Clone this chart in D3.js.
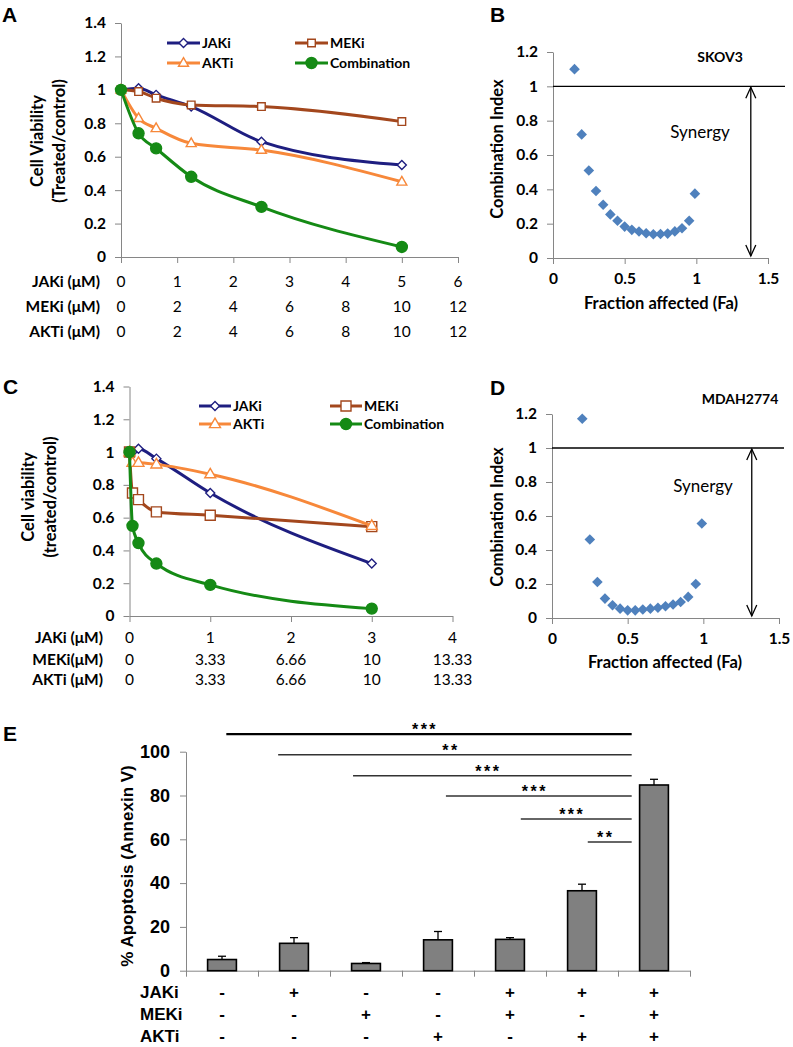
<!DOCTYPE html>
<html><head><meta charset="utf-8">
<script src="https://cdn.jsdelivr.net/npm/d3@7"></script>
<style>body{margin:0;background:#fff}svg{display:block}</style>
</head><body>
<svg id="c" width="793" height="1047"></svg>
<script>
// ---------- DATA ----------
// Panel A (SKOV3) viability
const doseA = [0, 0.3125, 0.625, 1.25, 2.5, 5];
const jakA = [1.00, 1.01, 0.97, 0.90, 0.69, 0.55];
const mekA = [1.00, 0.99, 0.95, 0.91, 0.90, 0.81];
const aktA = [1.00, 0.83, 0.77, 0.68, 0.64, 0.45];
const comboA = [1.00, 0.74, 0.65, 0.48, 0.30, 0.06];
const jakTicksA = ["0","1","2","3","4","5","6"];
const mekTicksA = ["0","2","4","6","8","10","12"];
const aktTicksA = ["0","2","4","6","8","10","12"];
// Panel C (MDAH2774) viability
const doseC = [0, 0.037, 0.111, 0.333, 1, 3];
const jakC = [1.00, 1.00, 1.02, 0.96, 0.75, 0.32];
const mekC = [1.00, 0.75, 0.71, 0.635, 0.615, 0.545];
const aktC = [1.00, 0.935, 0.935, 0.925, 0.865, 0.55];
const comboC = [1.00, 0.55, 0.445, 0.32, 0.19, 0.045];
const jakTicksC = ["0","1","2","3","4"];
const mekTicksC = ["0","3.33","6.66","10","13.33"];
const aktTicksC = ["0","3.33","6.66","10","13.33"];
const seriesNames = ["JAKi","MEKi","AKTi","Combination"];
// Panel B / D combination index
const faB = [0.15,0.2,0.25,0.3,0.35,0.4,0.45,0.5,0.55,0.6,0.65,0.7,0.75,0.8,0.85,0.9,0.95,0.99];
const ciB = [1.10,0.72,0.51,0.39,0.31,0.254,0.217,0.183,0.164,0.154,0.144,0.138,0.14,0.142,0.155,0.173,0.217,0.375];
const faD = [0.2,0.25,0.3,0.35,0.4,0.45,0.5,0.55,0.6,0.65,0.7,0.75,0.8,0.85,0.9,0.95,0.99];
const ciD = [1.172,0.462,0.212,0.114,0.075,0.055,0.045,0.045,0.05,0.055,0.06,0.069,0.079,0.094,0.124,0.2,0.556];
// Panel E apoptosis
const apop = [5.1, 12.5, 3.3, 14.1, 14.3, 36.5, 84.8];
const apopErr = [1.5, 2.6, 0.4, 3.8, 0.8, 3.0, 2.6];
const jakSigns = ["-","+","-","-","+","+","+"];
const mekSigns = ["-","-","+","-","+","-","+"];
const aktSigns = ["-","-","-","+","-","+","+"];
const sigFrom = [0.06, 0.78, 1.82, 3.11, 4.15, 5.08];
const sigTo = 5.69;
const sigLevel = [108, 98.6, 89.0, 79.8, 69.3, 58.8];
const sigStars = ["***","**","***","***","***","**"];

// ---------- DRAW ----------
const svg = d3.select('#c');
svg.append('rect').attr('width',793).attr('height',1047).attr('fill','#fff');
const F = "Lato, 'Open Sans', 'Liberation Sans', sans-serif";
const FA = "'Liberation Sans', Arial, sans-serif";
const FN = "'Liberation Sans Narrow', 'Liberation Sans', Arial, sans-serif";
const AX = '#868686';
const colors = {JAKi:'#1e1e80', MEKi:'#a3471d', AKTi:'#f7883a', Combination:'#158a15'};
const shapes = {JAKi:'diamond', MEKi:'square', AKTi:'triangle', Combination:'circle'};

function shapePath(type, s){
  const p = d3.path();
  if(type==='diamond'){ p.moveTo(0,-s); p.lineTo(s,0); p.lineTo(0,s); p.lineTo(-s,0); p.closePath(); }
  else if(type==='square'){ p.rect(-s,-s,2*s,2*s); }
  else if(type==='triangle'){ const h=s*1.732; p.moveTo(0,-h*0.62); p.lineTo(s,h*0.38); p.lineTo(-s,h*0.38); p.closePath(); }
  else { p.arc(0,0,s,0,2*Math.PI); }
  return p.toString();
}
function drawMarker(g, name, cx, cy, sizes){
  const t = shapes[name];
  g.append('path').attr('d', shapePath(t, sizes[t]))
   .attr('transform', `translate(${cx},${cy})`)
   .attr('fill', t==='circle' ? colors[name] : '#fff')
   .attr('stroke', colors[name]).attr('stroke-width', 1.4);
}
function styleAxis(a, fs, font, weight){
  a.select('.domain').attr('stroke', AX).attr('stroke-width',1);
  a.selectAll('.tick line').attr('stroke', AX);
  a.selectAll('text').attr('font-family', font||F).attr('font-weight', weight||'bold').attr('font-size', fs||15).attr('fill','#000');
}
function panelLabel(t, x, y){
  svg.append('text').attr('x',x).attr('y',y).text(t)
    .attr('font-family',FA).attr('font-weight','bold').attr('font-size',21);
}
function rotLabel(lines, cx, cy, gap, fs, font){
  lines.forEach((l,i)=>{
    svg.append('text').attr('transform',`translate(${cx + i*gap},${cy}) rotate(-90)`)
      .attr('text-anchor','middle').attr('dy','0.35em').text(l)
      .attr('font-family',font||F).attr('font-weight','bold').attr('font-size',fs||16);
  });
}

function linePanel(cfg){
  const g = svg.append('g');
  const x = d3.scaleLinear().domain([0, cfg.xmax]).range([cfg.x0, cfg.x1]);
  const y = d3.scaleLinear().domain([0, 1.4]).range([cfg.y0, cfg.y1]);
  const ya = g.append('g').attr('transform',`translate(${cfg.x0},0)`)
    .call(d3.axisLeft(y).tickValues(d3.range(0,8).map(i=>i*0.2)).tickFormat(d=>d3.format('~g')(+d.toFixed(1))).tickSize(6).tickSizeOuter(0).tickPadding(9));
  styleAxis(ya, 15.5);
  const xa = g.append('g').attr('transform',`translate(0,${cfg.y0})`)
    .call(d3.axisBottom(x).tickValues(d3.range(0,cfg.xmax+1)).tickFormat('').tickSize(6).tickSizeOuter(0));
  styleAxis(xa, 15);
  // series
  const line = d3.line().x(d=>x(d[0])).y(d=>y(d[1])).curve(d3.curveMonotoneX);
  cfg.series.forEach((vals, si)=>{
    const name = seriesNames[si];
    const pts = cfg.dose.map((d,i)=>[d, vals[i]]);
    g.append('path').attr('d', line(pts)).attr('fill','none').attr('stroke',colors[name]).attr('stroke-width',3).attr('stroke-linejoin','round');
    pts.forEach(p=> drawMarker(g, name, x(p[0]), y(p[1]), cfg.msize));
  });
  // legend
  cfg.legend.forEach((lg,i)=>{
    const name = seriesNames[i];
    g.append('line').attr('x1',lg[0]).attr('x2',lg[0]+cfg.legLen).attr('y1',lg[1]).attr('y2',lg[1]).attr('stroke',colors[name]).attr('stroke-width',3);
    drawMarker(g, name, lg[0]+cfg.legLen/2, lg[1], cfg.msize);
    g.append('text').attr('x',lg[0]+cfg.legLen+2).attr('y',lg[1]).attr('dy','0.35em').text(name)
      .attr('font-family',F).attr('font-weight','bold').attr('font-size',14);
  });
  // dose rows
  cfg.rows.forEach(r=>{
    g.append('text').attr('x',cfg.rowLabelX).attr('y',r.y).attr('text-anchor','end').text(r.label)
      .attr('font-family',F).attr('font-weight','bold').attr('font-size',15.5);
    r.ticks.forEach((t,i)=>{
      g.append('text').attr('x', x(i)).attr('y', r.y).attr('text-anchor','middle').text(t)
        .attr('font-family',F).attr('font-size',15.5);
    });
  });
}

function ciPanel(cfg){
  const g = svg.append('g');
  const x = d3.scaleLinear().domain([0,1.5]).range([cfg.x0,cfg.x1]);
  const y = d3.scaleLinear().domain([0,1.2]).range([cfg.y0,cfg.y1]);
  const ya = g.append('g').attr('transform',`translate(${cfg.x0},0)`)
    .call(d3.axisLeft(y).tickValues(d3.range(0,7).map(i=>i*0.2)).tickFormat(d=>d3.format('~g')(+d.toFixed(1))).tickSize(6).tickSizeOuter(0).tickPadding(9));
  styleAxis(ya, 15.5);
  const xa = g.append('g').attr('transform',`translate(0,${cfg.y0})`)
    .call(d3.axisBottom(x).tickValues([0,0.5,1,1.5]).tickFormat(d3.format('~g')).tickSize(6).tickSizeOuter(0).tickPadding(9));
  styleAxis(xa, 15.5);
  // reference line
  g.append('line').attr('x1',cfg.x0).attr('x2',cfg.lineEnd).attr('y1',y(1)).attr('y2',y(1)).attr('stroke','#000').attr('stroke-width',1.3);
  // double arrow
  const ax = x(cfg.arrowX), ay1 = y(1)+1, ay2 = y(0)-2;
  g.append('line').attr('x1',ax).attr('x2',ax).attr('y1',ay1).attr('y2',ay2).attr('stroke','#000').attr('stroke-width',1.3);
  [[ay1,1],[ay2,-1]].forEach(([yy,dir])=>{
    g.append('path').attr('d',`M${ax-5},${yy+dir*11}L${ax},${yy}L${ax+5},${yy+dir*11}`).attr('fill','none').attr('stroke','#000').attr('stroke-width',1.3);
  });
  // points
  cfg.fa.forEach((f,i)=>{
    g.append('path').attr('d', shapePath('diamond',5.3)).attr('transform',`translate(${x(f)},${y(cfg.ci[i])})`).attr('fill','#4f81bd');
  });
  g.append('text').attr('x',cfg.titleX).attr('y',cfg.titleY).attr('text-anchor','middle').text(cfg.title)
    .attr('font-family',F).attr('font-weight','bold').attr('font-size',14);
  g.append('text').attr('x',cfg.synX).attr('y',cfg.synY).attr('text-anchor','middle').text('Synergy')
    .attr('font-family',F).attr('font-size',17);
  g.append('text').attr('x',cfg.xtX).attr('y',cfg.xtY).attr('text-anchor','middle').text('Fraction affected (Fa)')
    .attr('font-family',F).attr('font-weight','bold').attr('font-size',16.5);
  rotLabel(['Combination Index'], cfg.ytX, cfg.ytY, 0, 16.5);
}

// ---- Panel A ----
panelLabel('A', 2, 22);
rotLabel(['Cell Viability','(Treated/control)'], 37, 141, 22, 16.5);
linePanel({
  x0:121, x1:458, y0:257, y1:23, xmax:6, dose:doseA,
  series:[jakA, mekA, aktA, comboA],
  msize:{diamond:4.5, square:3.8, triangle:5, circle:5.5},
  legend:[[167,43],[295,43],[167,63],[295,63]], legLen:33,
  rowLabelX:100,
  rows:[{label:'JAKi (μM)', y:287, ticks:jakTicksA},{label:'MEKi (μM)', y:312, ticks:mekTicksA},{label:'AKTi (μM)', y:337, ticks:aktTicksA}]
});

// ---- Panel B ----
panelLabel('B', 490, 22);
ciPanel({x0:553, x1:768, y0:258, y1:52, fa:faB, ci:ciB, lineEnd:785, arrowX:1.38,
  title:'SKOV3', titleX:720, titleY:62, synX:700, synY:138, xtX:661, xtY:309, ytX:497, ytY:149});

// ---- Panel C ----
panelLabel('C', 3, 394);
rotLabel(['Cell viability','(treated/control)'], 28, 497, 22, 16.5);
linePanel({
  x0:129.5, x1:452.5, y0:616, y1:386.5, xmax:4, dose:doseC,
  series:[jakC, mekC, aktC, comboC],
  msize:{diamond:4.5, square:5, triangle:5.5, circle:5.5},
  legend:[[199,406],[330,406],[199,424],[330,424]], legLen:32,
  rowLabelX:103,
  rows:[{label:'JAKi (μM)', y:643, ticks:jakTicksC},{label:'MEKi(μM)', y:665, ticks:mekTicksC},{label:'AKTi (μM)', y:685, ticks:aktTicksC}]
});

// ---- Panel D ----
panelLabel('D', 490, 395);
ciPanel({x0:552, x1:779, y0:618, y1:414, fa:faD, ci:ciD, lineEnd:784, arrowX:1.32,
  title:'MDAH2774', titleX:740, titleY:404, synX:703, synY:492, xtX:665, xtY:668, ytX:497, ytY:517});

// ---- Panel E ----
panelLabel('E', 3, 741);
(function(){
  const g = svg.append('g');
  const idx = d3.range(apop.length);
  const xb = d3.scaleBand().domain(idx).range([186,690]).paddingInner(0.6).paddingOuter(0.3);
  const xc = d3.scaleLinear().domain([-0.5, apop.length-0.5]).range([186,690]);
  const y = d3.scaleLinear().domain([0,100]).range([970.7, 751.7]);
  const ya = g.append('g').attr('transform','translate(186,0)')
    .call(d3.axisLeft(y).tickValues([0,20,40,60,80,100]).tickSize(6).tickSizeOuter(0).tickPadding(10));
  styleAxis(ya, 18, FN, 'bold');
  const xa = g.append('g').attr('transform',`translate(0,${y(0)})`)
    .call(d3.axisBottom(xc).tickValues(d3.range(apop.length+1).map(i=>i-0.5)).tickFormat('').tickSize(6).tickSizeOuter(0));
  styleAxis(xa, 14);
  // error bars
  idx.forEach(i=>{
    const cx = xb(i)+xb.bandwidth()/2;
    g.append('line').attr('x1',cx).attr('x2',cx).attr('y1',y(apop[i])).attr('y2',y(apop[i]+apopErr[i])).attr('stroke','#000').attr('stroke-width',1.3);
    g.append('line').attr('x1',cx-4).attr('x2',cx+4).attr('y1',y(apop[i]+apopErr[i])).attr('y2',y(apop[i]+apopErr[i])).attr('stroke','#000').attr('stroke-width',1.3);
  });
  g.selectAll('rect.bar').data(idx).enter().append('rect').attr('class','bar')
    .attr('x',i=>xb(i)).attr('width',xb.bandwidth())
    .attr('y',i=>y(apop[i])).attr('height',i=>y(0)-y(apop[i]))
    .attr('fill','#808080').attr('stroke','#000').attr('stroke-width',1.6);
  // significance lines
  sigFrom.forEach((f,i)=>{
    g.append('line').attr('x1',xc(f)).attr('x2',xc(sigTo)).attr('y1',y(sigLevel[i])).attr('y2',y(sigLevel[i]))
      .attr('stroke', i===0 ? '#000' : '#333').attr('stroke-width', i===0 ? 2.2 : 1.6);
    g.append('text').attr('x',(xc(f)+xc(sigTo))/2 - 4).attr('y',y(sigLevel[i])+1).attr('text-anchor','middle')
      .text(sigStars[i]).attr('font-family',FA).attr('font-weight','bold').attr('font-size',16).attr('letter-spacing',2.5);
  });
  // y title
  rotLabel(['% Apoptosis (Annexin V)'], 127, 866, 0, 17, FA);
  // treatment table
  const rows = [['JAKi',jakSigns,998],['MEKi',mekSigns,1020],['AKTi',aktSigns,1042]];
  rows.forEach(([lab,signs,yy])=>{
    g.append('text').attr('x',140).attr('y',yy).text(lab).attr('font-family',FN).attr('font-weight','bold').attr('font-size',17);
    signs.forEach((s,i)=>{
      g.append('text').attr('x',xb(i)+xb.bandwidth()/2).attr('y',yy).attr('text-anchor','middle').text(s)
        .attr('font-family',FN).attr('font-weight','bold').attr('font-size',17);
    });
  });
})();
</script>
</body></html>
